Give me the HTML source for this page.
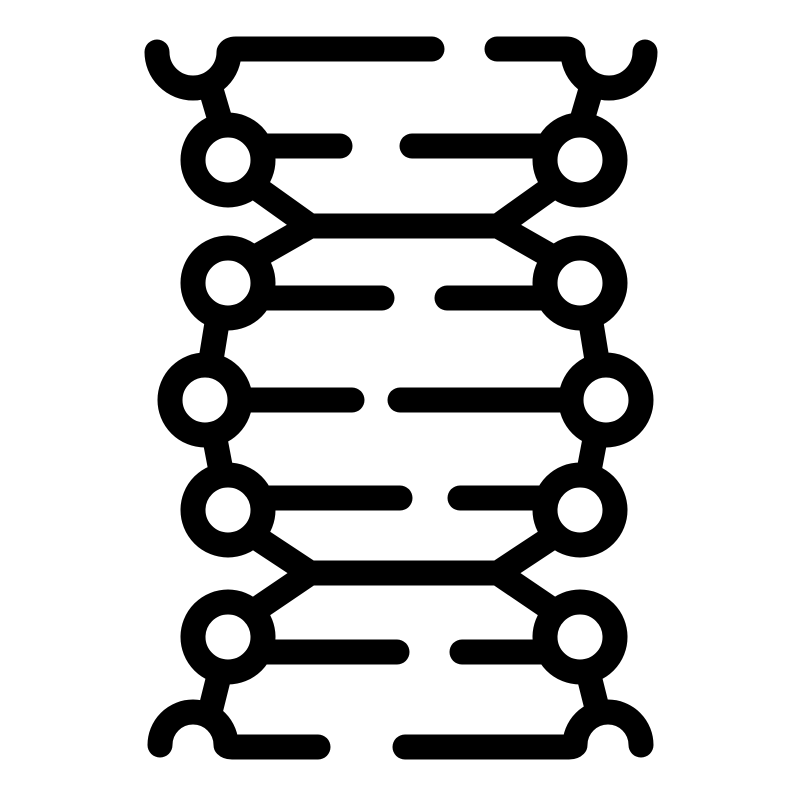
<!DOCTYPE html>
<html><head><meta charset="utf-8"><style>html,body{margin:0;padding:0;background:#fff}svg{display:block}</style></head>
<body>
<svg width="800" height="800" viewBox="0 0 800 800">
<g fill="none" stroke="#000" stroke-width="25" stroke-linecap="round" stroke-linejoin="round">
  <g>
    <path d="M157 52 A36 36 0 0 0 229 52 Q231 49 236 49 L432 49"/>
    <path d="M210 86 L220 120"/>
  </g>
  <g>
    <path d="M645 52 A36 36 0 0 1 573 52 Q571 49 566 49 L497 49"/>
    <path d="M592 86 L582 120"/>
  </g>
  <g>
    <path d="M310 226 L498 226"/>
    <path d="M310 573 L498 573"/>
    <path d="M254 186 L310 226 L254 258"/>
    <path d="M218 317 L210 366"/>
    <path d="M214 434 L222 476"/>
    <path d="M254 536 L310 573 L254 611"/>
    <path d="M220 672 L210 712"/>
    <path d="M554 186 L498 226 L554 258"/>
    <path d="M590 317 L598 366"/>
    <path d="M596 434 L588 476"/>
    <path d="M554 536 L498 573 L554 611"/>
    <path d="M588 672 L598 712"/>
  </g>
  <g>
    <path d="M265 146 L340 146"/><path d="M412 146 L545 146"/>
    <path d="M265 298 L382 298"/><path d="M447 298 L545 298"/>
    <path d="M240 400 L352 400"/><path d="M400 400 L572 400"/>
    <path d="M265 498 L400 498"/><path d="M460 498 L545 498"/>
    <path d="M265 652 L397 652"/><path d="M462 652 L545 652"/>
  </g>
  <g fill="#fff">
    <circle cx="228" cy="160" r="35"/>
    <circle cx="228" cy="283" r="35"/>
    <circle cx="205" cy="400" r="35"/>
    <circle cx="228" cy="510" r="35"/>
    <circle cx="228" cy="637" r="35"/>
  </g>
  <g fill="#fff">
    <circle cx="580" cy="160" r="35"/>
    <circle cx="580" cy="283" r="35"/>
    <circle cx="606" cy="400" r="35"/>
    <circle cx="580" cy="510" r="35"/>
    <circle cx="580" cy="637" r="35"/>
  </g>
  <g>
    <path d="M160 745 A33 33 0 0 1 226 745 Q228 747 232 747 L318 747"/>
    <path d="M641 745 A33 33 0 0 0 575 745 Q573 747 569 747 L405 747"/>
  </g>
</g>
</svg>
</body></html>
